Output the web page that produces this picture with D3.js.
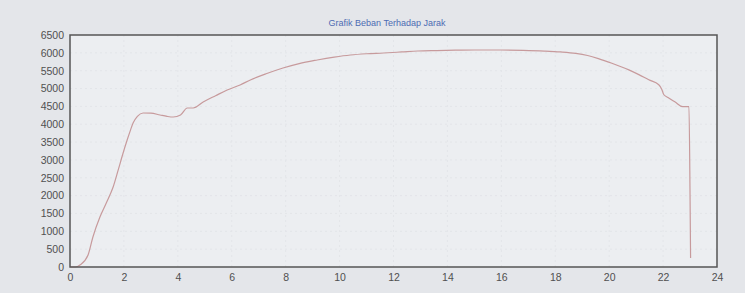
<!DOCTYPE html>
<html>
<head>
<meta charset="utf-8">
<script src="https://d3js.org/d3.v7.min.js"></script>
<style>
  body { margin: 0; background: #e4e6ea; }
  #chart { width: 745px; height: 293px; }
  text { font-family: "Liberation Sans", Arial, sans-serif; }
</style>
</head>
<body>
<div id="chart"></div>
<script>
// jarak (x) and beban (y)
const jarak = [0, 0.2, 0.37, 0.67, 0.85, 1.11, 1.35, 1.6, 1.8, 1.97, 2.12, 2.25, 2.34, 2.5, 2.71, 3.0, 3.34, 3.6, 3.83, 4.1, 4.35, 4.57, 4.94, 5.4, 5.83, 6.31, 6.69, 7.3, 7.9, 8.5, 9.17, 9.8, 10.4, 11.0, 11.63, 12.3, 12.9, 13.6, 14.3, 15.0, 15.97, 16.8, 17.6, 18.2, 18.76, 19.2, 19.6, 20.1, 20.73, 21.1, 21.47, 21.84, 21.95, 22.03, 22.2, 22.45, 22.73, 22.96, 23.0, 23.02];
const beban = [0, 0, 56, 336, 840, 1400, 1800, 2241, 2750, 3194, 3557, 3850, 4034, 4220, 4314, 4310, 4258, 4220, 4202, 4260, 4455, 4455, 4623, 4800, 4960, 5100, 5240, 5420, 5575, 5700, 5800, 5880, 5940, 5975, 5996, 6025, 6052, 6065, 6075, 6080, 6080, 6070, 6050, 6025, 5985, 5925, 5840, 5710, 5523, 5390, 5245, 5105, 4980, 4826, 4742, 4620, 4491, 4491, 2000, 250];
const xTicks = [0, 2, 4, 6, 8, 10, 12, 14, 16, 18, 20, 22, 24];
const yTicks = [0, 500, 1000, 1500, 2000, 2500, 3000, 3500, 4000, 4500, 5000, 5500, 6000, 6500];
const title = "Grafik Beban Terhadap Jarak";

const width = 745, height = 293;
const margin = { top: 35, right: 28, bottom: 26, left: 70 };
const w = width - margin.left - margin.right;
const h = height - margin.top - margin.bottom;

const svg = d3.select("#chart")
    .append("svg")
    .attr("width", width)
    .attr("height", height);

const x = d3.scaleLinear().domain([0, 24]).range([0, w]);
const y = d3.scaleLinear().domain([0, 6500]).range([h, 0]);

const g = svg.append("g")
    .attr("transform", `translate(${margin.left},${margin.top})`);

// plot area
g.append("rect")
    .attr("width", w)
    .attr("height", h)
    .attr("fill", "#eceef1");

// faint grid
g.append("g")
    .selectAll("line.gx")
    .data(xTicks.slice(1, -1))
    .enter()
    .append("line")
    .attr("x1", d => x(d)).attr("x2", d => x(d))
    .attr("y1", 0).attr("y2", h)
    .attr("stroke", "#e3e5e9")
    .attr("stroke-dasharray", "2,3");

g.append("g")
    .selectAll("line.gy")
    .data(yTicks.slice(1, -1))
    .enter()
    .append("line")
    .attr("y1", d => y(d)).attr("y2", d => y(d))
    .attr("x1", 0).attr("x2", w)
    .attr("stroke", "#e3e5e9")
    .attr("stroke-dasharray", "2,3");

// axes
const xAxis = g.append("g")
    .attr("transform", `translate(0,${h})`)
    .call(d3.axisBottom(x).tickValues(xTicks).tickFormat(d3.format("d")).tickSize(0).tickPadding(7));

const yAxis = g.append("g")
    .call(d3.axisLeft(y).tickValues(yTicks).tickFormat(d3.format("d")).tickSize(0).tickPadding(6));

[xAxis, yAxis].forEach(a => {
    a.select(".domain").remove();
    a.selectAll("text")
        .attr("fill", "#505050")
        .style("font-size", "10.5px");
});

// curve
const line = d3.line()
    .x((d, i) => x(jarak[i]))
    .y(d => y(d))
    .curve(d3.curveMonotoneX);

g.append("path")
    .datum(beban)
    .attr("fill", "none")
    .attr("stroke", "#c79a9c")
    .attr("stroke-width", 1.2)
    .attr("d", line);

// frame
g.append("rect")
    .attr("width", w)
    .attr("height", h)
    .attr("fill", "none")
    .attr("stroke", "#555")
    .attr("stroke-width", 1.5);

svg.append("text")
    .attr("x", 387)
    .attr("y", 26)
    .attr("text-anchor", "middle")
    .attr("fill", "#4d6cb3")
    .style("font-size", "9px")
    .text(title);
</script>
</body>
</html>
